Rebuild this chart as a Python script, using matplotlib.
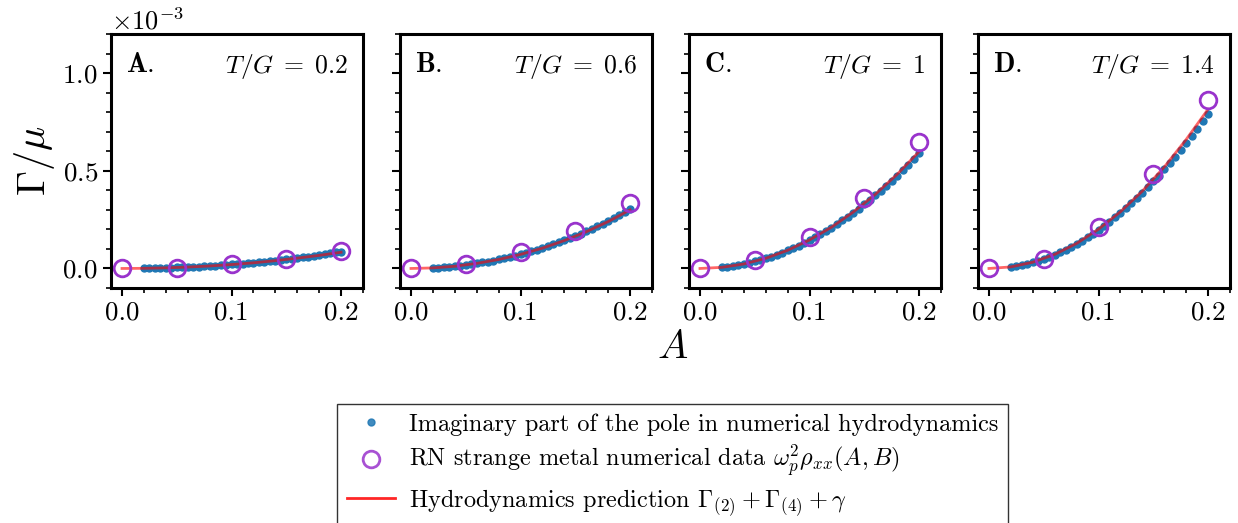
import numpy as np
import matplotlib
matplotlib.use("Agg")
import matplotlib.pyplot as plt
from matplotlib.ticker import MultipleLocator

plt.rcParams['font.family'] = 'serif'
plt.rcParams['font.serif'] = ['cmr10']
plt.rcParams['mathtext.fontset'] = 'cm'
plt.rcParams['axes.formatter.use_mathtext'] = True
plt.rcParams['axes.unicode_minus'] = False

# ---- data (Gamma/mu in units of 1e-3) ----
panel_tags = ['A.', 'B.', 'C.', 'D.']
temps = ['0.2', '0.6', '1', '1.4']

# imaginary part of the pole, numerical hydrodynamics
A_pole = np.arange(0.02, 0.2001, 0.005)
pole_A = [0.0008, 0.0013, 0.0018, 0.0025, 0.0032, 0.0041, 0.0050, 0.0061, 0.0073, 0.0085,
          0.0099, 0.0114, 0.0130, 0.0147, 0.0165, 0.0184, 0.0204, 0.0225, 0.0248, 0.0272,
          0.0296, 0.0322, 0.0349, 0.0378, 0.0407, 0.0438, 0.0470, 0.0504, 0.0538, 0.0574,
          0.0611, 0.0650, 0.0690, 0.0731, 0.0774, 0.0818, 0.0864]
pole_B = [0.0029, 0.0045, 0.0065, 0.0088, 0.0115, 0.0146, 0.0181, 0.0219, 0.0261, 0.0306,
          0.0355, 0.0408, 0.0465, 0.0525, 0.0590, 0.0658, 0.0730, 0.0806, 0.0886, 0.0970,
          0.1058, 0.1149, 0.1245, 0.1345, 0.1450, 0.1558, 0.1671, 0.1788, 0.1909, 0.2034,
          0.2164, 0.2299, 0.2438, 0.2581, 0.2730, 0.2882, 0.3040]
pole_C = [0.0058, 0.0090, 0.0130, 0.0177, 0.0231, 0.0292, 0.0361, 0.0436, 0.0520, 0.0610,
          0.0708, 0.0813, 0.0925, 0.1045, 0.1172, 0.1306, 0.1448, 0.1598, 0.1755, 0.1919,
          0.2091, 0.2270, 0.2457, 0.2652, 0.2854, 0.3064, 0.3282, 0.3508, 0.3741, 0.3982,
          0.4231, 0.4488, 0.4753, 0.5026, 0.5307, 0.5596, 0.5893]
pole_D = [0.0079, 0.0124, 0.0178, 0.0243, 0.0317, 0.0401, 0.0495, 0.0599, 0.0713, 0.0837,
          0.0970, 0.1114, 0.1267, 0.1431, 0.1604, 0.1787, 0.1980, 0.2183, 0.2396, 0.2619,
          0.2851, 0.3094, 0.3346, 0.3609, 0.3881, 0.4163, 0.4455, 0.4757, 0.5069, 0.5391,
          0.5722, 0.6064, 0.6415, 0.6777, 0.7148, 0.7529, 0.7920]

# RN strange metal numerical data
A_rn = [0.0, 0.05, 0.10, 0.15, 0.20]
rn_A = [0.0, 0.003, 0.022, 0.048, 0.091]
rn_B = [0.0, 0.021, 0.082, 0.190, 0.337]
rn_C = [0.0, 0.041, 0.160, 0.360, 0.645]
rn_D = [0.0, 0.051, 0.212, 0.485, 0.863]

# hydrodynamics prediction
A_hyd = [0.0, 0.02, 0.04, 0.06, 0.08, 0.10, 0.12, 0.14, 0.16, 0.18, 0.20]
hyd_A = [0.0, 0.0008, 0.0032, 0.0072, 0.0128, 0.020, 0.029, 0.040, 0.053, 0.067, 0.083]
hyd_B = [0.0, 0.0029, 0.0115, 0.026, 0.046, 0.072, 0.104, 0.143, 0.188, 0.240, 0.300]
hyd_C = [0.0, 0.0058, 0.023, 0.052, 0.093, 0.146, 0.211, 0.289, 0.379, 0.482, 0.598]
hyd_D = [0.0, 0.0080, 0.032, 0.072, 0.128, 0.201, 0.290, 0.396, 0.519, 0.660, 0.815]

poles = [pole_A, pole_B, pole_C, pole_D]
rns = [rn_A, rn_B, rn_C, rn_D]
hyds = [hyd_A, hyd_B, hyd_C, hyd_D]

scale = 1e-3

fig, axes = plt.subplots(1, 4, figsize=(12.38, 5.23), dpi=100, sharey=True)
fig.subplots_adjust(left=0.0897, right=0.9935, bottom=0.4493, top=0.935, wspace=0.147)

for i, ax in enumerate(axes):
    h1, = ax.plot(A_pole, np.array(poles[i]) * scale, 'o', color='#1f77b4', ms=5,
                  label='Imaginary part of the pole in numerical hydrodynamics')
    h3, = ax.plot(A_hyd, np.array(hyds[i]) * scale, '-', color='red', lw=2, alpha=0.6,
                  label=r'Hydrodynamics prediction $\Gamma_{(2)}+\Gamma_{(4)}+\gamma$')
    h2, = ax.plot(A_rn, np.array(rns[i]) * scale, 'o', mfc='none', mec='#9933cc', mew=2,
                  ms=12, label=r'RN strange metal numerical data $\omega_p^2\rho_{xx}(A,B)$')

    ax.set_xlim(-0.01, 0.22)
    ax.set_ylim(-0.1e-3, 1.2e-3)
    ax.xaxis.set_major_locator(MultipleLocator(0.1))
    ax.xaxis.set_minor_locator(MultipleLocator(0.02))
    ax.yaxis.set_major_locator(MultipleLocator(0.5e-3))
    ax.yaxis.set_minor_locator(MultipleLocator(0.1e-3))
    ax.tick_params(which='major', length=6, width=1.5, labelsize=19.5)
    ax.tick_params(which='minor', length=3.5, width=1.2)
    for s in ax.spines.values():
        s.set_linewidth(2.2)
    ax.xaxis.set_major_formatter(plt.FuncFormatter(lambda v, p: f'{v:.1f}'))

    ax.text(0.06, 0.93, r'$\mathbf{' + panel_tags[i] + '}$', transform=ax.transAxes,
            fontsize=20, va='top', ha='left')
    ax.text(0.94, 0.93, r'$T/G\;=\;' + temps[i] + '$', transform=ax.transAxes,
            fontsize=18.5, va='top', ha='right')

axes[0].yaxis.set_major_formatter(plt.ScalarFormatter(useMathText=True))
axes[0].ticklabel_format(axis='y', style='sci', scilimits=(-3, -3))
axes[0].yaxis.get_offset_text().set_fontsize(19)
axes[0].set_ylabel(r'$\Gamma/\mu$', fontsize=29)
fig.text(0.543, 0.335, r'$A$', fontsize=29, ha='center', va='center')

leg = fig.legend(handles=[h1, h2, h3], loc='upper center', bbox_to_anchor=(0.543, 0.228),
                 fontsize=17.5, frameon=True, fancybox=False, edgecolor='black',
                 handlelength=2.0, handletextpad=0.55, labelspacing=0.3,
                 borderaxespad=0, borderpad=0.4)
leg.get_frame().set_linewidth(1.0)
for lh in leg.legend_handles:
    lh.set_alpha(0.85)

fig.savefig('out.png', dpi=100)
